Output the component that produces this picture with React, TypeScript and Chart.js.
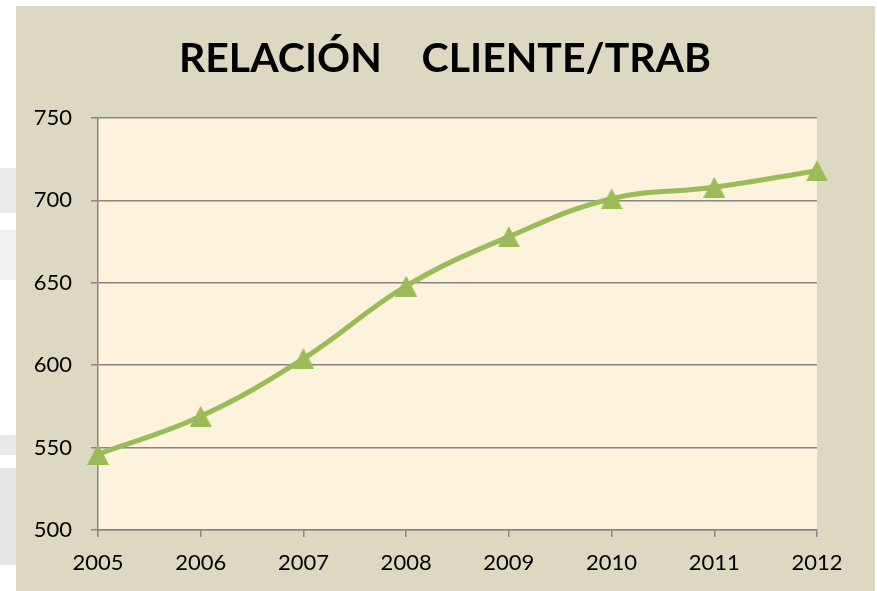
import { useEffect, useRef } from "react";
import { Chart, registerables } from "chart.js";

Chart.register(...registerables);

const categories = ["2005", "2006", "2007", "2008", "2009", "2010", "2011", "2012"];
const values = [546, 569, 604, 648, 678, 701, 708, 718];
const yMin = 500;
const yMax = 750;
const yStep = 50;
const titleText = "RELACIÓN    CLIENTE/TRAB";

const LINE_COLOR = "#9bbb59";
const GRID_COLOR = "#868686";

function makeTriangle(): HTMLCanvasElement {
  const c = document.createElement("canvas");
  const w = 22;
  const h = 21;
  c.width = w;
  c.height = h;
  const g = c.getContext("2d")!;
  g.fillStyle = LINE_COLOR;
  g.beginPath();
  g.moveTo(w / 2, 0);
  g.lineTo(w, h);
  g.lineTo(0, h);
  g.closePath();
  g.fill();
  return c;
}

const backgroundPlugin = {
  id: "bgPlugin",
  beforeDraw(chart: any) {
    const ctx = chart.ctx as CanvasRenderingContext2D;
    const W = chart.width;
    const H = chart.height;
    ctx.save();
    ctx.fillStyle = "#ffffff";
    ctx.fillRect(0, 0, W, H);
    ctx.fillStyle = "#ebebeb";
    ctx.fillRect(0, 168, 16, 45);
    ctx.fillStyle = "#f0f0f0";
    ctx.fillRect(0, 230, 16, 50);
    ctx.fillStyle = "#e9e9e9";
    ctx.fillRect(0, 435, 16, 20);
    ctx.fillStyle = "#e6e6e6";
    ctx.fillRect(0, 468, 16, 97);
    ctx.fillStyle = "#ddd8c2";
    ctx.fillRect(16, 6, 859, H - 6);
    const a = chart.chartArea;
    ctx.fillStyle = "#fdf3dc";
    ctx.fillRect(a.left, a.top, a.right - a.left, a.bottom - a.top);
    ctx.restore();
  },
  afterDraw(chart: any) {
    const ctx = chart.ctx as CanvasRenderingContext2D;
    ctx.save();
    ctx.fillStyle = "#000000";
    ctx.font = "bold 41px Lato";
    ctx.textAlign = "center";
    ctx.textBaseline = "alphabetic";
    ctx.fillText(titleText, 445, 72);
    ctx.restore();
  },
};

export default function App() {
  const ref = useRef<HTMLCanvasElement | null>(null);

  useEffect(() => {
    if (!ref.current) return;
    const tri = makeTriangle();
    const chart = new Chart(ref.current, {
      type: "line",
      data: {
        labels: categories,
        datasets: [
          {
            data: values,
            borderColor: LINE_COLOR,
            backgroundColor: LINE_COLOR,
            borderWidth: 5,
            tension: 0.4,
            pointStyle: tri as any,
            pointRadius: 11,
            clip: false as any,
          },
        ],
      },
      options: {
        animation: false,
        responsive: true,
        maintainAspectRatio: false,
        layout: { padding: { left: 16, right: 60, top: 118, bottom: 0 } },
        plugins: {
          legend: { display: false },
          title: { display: false },
          tooltip: { enabled: false },
        },
        scales: {
          x: {
            type: "category",
            offset: false,
            afterFit: (s: any) => {
              s.height = 61;
            },
            grid: {
              display: true,
              drawOnChartArea: false,
              drawTicks: true,
              tickLength: 7,
              color: GRID_COLOR,
              lineWidth: 1.5,
            },
            border: { display: true, color: GRID_COLOR, width: 1.5 },
            ticks: {
              color: "#000000",
              font: { family: "Lato", size: 22 },
              padding: 13,
              maxRotation: 0,
              autoSkip: false,
            },
          },
          y: {
            min: yMin,
            max: yMax,
            afterFit: (s: any) => {
              s.width = 82;
            },
            grid: {
              display: true,
              drawOnChartArea: true,
              drawTicks: true,
              tickLength: 7,
              color: GRID_COLOR,
              lineWidth: 1.5,
            },
            border: { display: true, color: GRID_COLOR, width: 1.5 },
            ticks: {
              stepSize: yStep,
              color: "#000000",
              font: { family: "Lato", size: 22 },
              padding: 19,
            },
          },
        },
      },
      plugins: [backgroundPlugin],
    });
    return () => chart.destroy();
  }, []);

  return (
    <div style={{ position: "absolute", left: 0, top: 0, width: 877, height: 591 }}>
      <canvas ref={ref} style={{ width: "100%", height: "100%" }} />
    </div>
  );
}
